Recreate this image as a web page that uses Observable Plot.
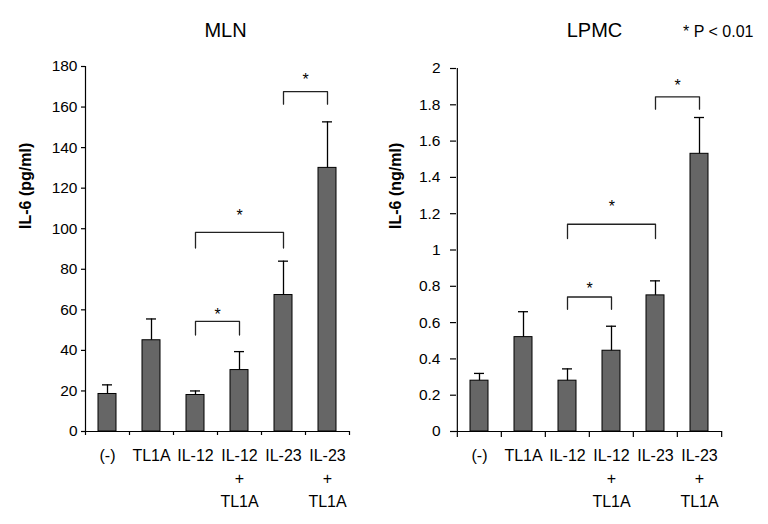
<!DOCTYPE html>
<html>
<head>
<meta charset="utf-8">
<script src="https://cdn.jsdelivr.net/npm/d3@7"></script>
<script src="https://cdn.jsdelivr.net/npm/@observablehq/plot@0.6"></script>
<style>
  html, body { margin: 0; padding: 0; background: #fff; }
  #wrap { display: flex; flex-direction: row; width: 768px; height: 524px; }
</style>
</head>
<body>
<div id="wrap"></div>
<script>
// ---- data ----
const categories = ["(-)", "TL1A", "IL-12", "IL-12 + TL1A", "IL-23", "IL-23 + TL1A"];
const categoryLabels = ["(-)", "TL1A", "IL-12", "IL-12\n+\nTL1A", "IL-23", "IL-23\n+\nTL1A"];

const mlnMeans = [18.5, 45, 18, 30.3, 67.3, 130];
const mlnErrors = [4.5, 10.5, 2, 9.1, 16.7, 22.7];
const mlnTicks = [0, 20, 40, 60, 80, 100, 120, 140, 160, 180];

const lpmcMeans = [0.28, 0.52, 0.28, 0.445, 0.75, 1.53];
const lpmcErrors = [0.04, 0.14, 0.065, 0.135, 0.08, 0.2];
const lpmcTicks = [0, 0.2, 0.4, 0.6, 0.8, 1, 1.2, 1.4, 1.6, 1.8, 2];

// significance brackets: from, to, bracket level, leg end, star level
const mlnBrackets = [
  {from: "IL-23", to: "IL-23 + TL1A", top: 167.6, leg: 161.4, star: 175.4},
  {from: "IL-12", to: "IL-23", top: 98.2, leg: 90.5, star: 108.4},
  {from: "IL-12", to: "IL-12 + TL1A", top: 54.3, leg: 47.6, star: 59.3}
];
const lpmcBrackets = [
  {from: "IL-23", to: "IL-23 + TL1A", top: 1.844, leg: 1.776, star: 1.926},
  {from: "IL-12", to: "IL-23", top: 1.142, leg: 1.063, star: 1.261},
  {from: "IL-12", to: "IL-12 + TL1A", top: 0.741, leg: 0.673, star: 0.81}
];

const FONT = "'Liberation Sans', Arial, Helvetica, sans-serif";

function panel(cfg) {
  const data = categories.map((c, i) => ({cat: c, label: categoryLabels[i], value: cfg.means[i], err: cfg.errors[i]}));
  const W = 384, H = 524;
  const step = (W - cfg.ml - cfg.mr) / categories.length;
  const frameH = H - cfg.mt - cfg.mb;
  const bracketPts = cfg.brackets.flatMap((b, k) => [
    {id: k, x: b.from, y: b.leg},
    {id: k, x: b.from, y: b.top},
    {id: k, x: b.to, y: b.top},
    {id: k, x: b.to, y: b.leg}
  ]);
  const starMarks = cfg.brackets.map(b => {
    const span = categories.indexOf(b.to) - categories.indexOf(b.from);
    return Plot.text([b], {x: "from", y: "star", text: () => "*", dx: span * step / 2, dy: 4, fontSize: 16});
  });
  return Plot.plot({
    width: W,
    height: H,
    marginLeft: cfg.ml,
    marginRight: cfg.mr,
    marginTop: cfg.mt,
    marginBottom: cfg.mb,
    style: {fontFamily: FONT, fontSize: "15.5px", color: "black", background: "white", overflow: "visible"},
    x: {type: "band", domain: categories, paddingInner: 0.59, paddingOuter: 0.295, align: 0.5, axis: null},
    y: {domain: cfg.domain, axis: null},
    marks: [
      Plot.barY(data, {x: "cat", y: "value", fill: "#666666", stroke: "black", strokeWidth: 1}),
      Plot.ruleX(data, {x: "cat", y1: "value", y2: d => d.value + d.err, stroke: "black", strokeWidth: 1.3}),
      Plot.tickY(data, {x: "cat", y: d => d.value + d.err, insetLeft: 4, insetRight: 4, stroke: "black", strokeWidth: 1.3}),
      // axes lines
      Plot.ruleY([cfg.domain[0]], {stroke: "black", strokeWidth: 1.2}),
      Plot.ruleX([categories[0]], {x: d => d, dx: -step / 2, stroke: "black", strokeWidth: 1.2}),
      // category boundary ticks
      Plot.ruleX(categories, {x: d => d, dx: -step / 2, insetTop: frameH, insetBottom: -cfg.xTick, stroke: "black", strokeWidth: 1.2}),
      Plot.ruleX([categories[categories.length - 1]], {x: d => d, dx: step / 2, insetTop: frameH, insetBottom: -cfg.xTick, stroke: "black", strokeWidth: 1.2}),
      Plot.axisY({ticks: cfg.ticks, tickSize: cfg.yTick, tickPadding: cfg.yPad, tickFormat: d3.format("~g"), label: null, fontSize: 15.5, strokeWidth: 1.2}),
      // category labels
      Plot.text(data, {x: "cat", text: "label", frameAnchor: "bottom", lineAnchor: "top", dy: 13, lineHeight: 1.45, fontSize: 16}),
      // brackets
      Plot.line(bracketPts, {x: "x", y: "y", z: "id", stroke: "#222", strokeWidth: 1.3}),
      ...starMarks,
      // y label
      Plot.text([cfg.ylabel], {frameAnchor: "left", rotate: -90, dx: cfg.ylabDx, dy: cfg.ylabDy, fontWeight: "bold", fontSize: 16}),
      // title
      Plot.text([cfg.title], {frameAnchor: "top", lineAnchor: "bottom", dx: cfg.titleDx, dy: cfg.titleDy, fontSize: 20}),
      ...(cfg.note ? [Plot.text([cfg.note], {frameAnchor: "top-right", textAnchor: "end", lineAnchor: "bottom", dx: cfg.noteDx, dy: cfg.titleDy, fontSize: 16})] : [])
    ]
  });
}

const wrap = document.getElementById("wrap");
wrap.appendChild(panel({
  means: mlnMeans, errors: mlnErrors, ticks: mlnTicks, domain: [0, 180], brackets: mlnBrackets,
  ml: 85, mr: 35, mt: 66, mb: 93, yTick: 4, yPad: 4, xTick: 4,
  ylabel: "IL-6 (pg/ml)", ylabDx: -60, ylabDy: -20,
  title: "MLN", titleDx: 8, titleDy: -30
}));
wrap.appendChild(panel({
  means: lpmcMeans, errors: lpmcErrors, ticks: lpmcTicks, domain: [0, 2], brackets: lpmcBrackets,
  ml: 72, mr: 46, mt: 68, mb: 93, yTick: 6, yPad: 10, xTick: 6,
  ylabel: "IL-6 (ng/ml)", ylabDx: -61, ylabDy: -21,
  title: "LPMC", titleDx: 5, titleDy: -32,
  note: "* P < 0.01", noteDx: 31
}));
</script>
</body>
</html>
